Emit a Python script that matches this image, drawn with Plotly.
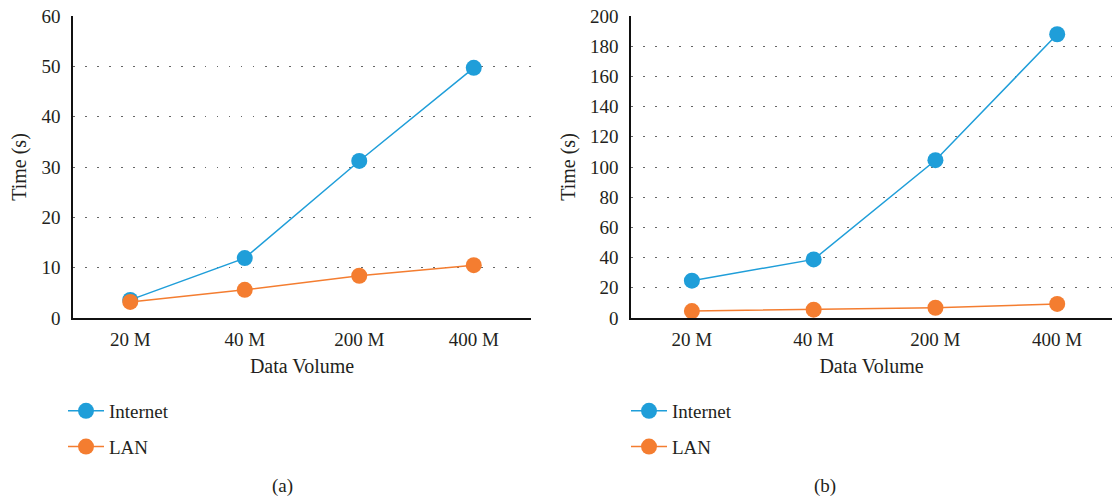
import plotly.graph_objects as go

# Data volumes on the x axis
volumes = ["20 M", "40 M", "200 M", "400 M"]

# Panel (a): transfer time in seconds
a_internet = [3.6, 11.9, 31.2, 49.7]
a_lan = [3.2, 5.6, 8.4, 10.5]

# Panel (b): transfer time in seconds
b_internet = [24.7, 38.8, 104.5, 187.9]
b_lan = [4.6, 5.5, 6.8, 9.3]

BLUE = "#1f9ed9"
ORANGE = "#f47d30"
FONT = "Liberation Serif"
TEXT_COLOR = "#231f20"
FS = 19

W, H = 1112, 498

fig = go.Figure()


def add_series(xaxis, yaxis, values, name, color, legend, group):
    fig.add_trace(go.Scatter(
        x=volumes, y=values, name=name, mode="lines+markers",
        line=dict(color=color, width=1.5),
        marker=dict(color=color, size=16),
        xaxis=xaxis, yaxis=yaxis, legend=legend, legendgroup=group,
    ))


add_series("x", "y", a_internet, "Internet", BLUE, "legend", "a1")
add_series("x", "y", a_lan, "LAN", ORANGE, "legend", "a2")
add_series("x2", "y2", b_internet, "Internet", BLUE, "legend2", "b1")
add_series("x2", "y2", b_lan, "LAN", ORANGE, "legend2", "b2")

tick_font = dict(family=FONT, size=FS, color=TEXT_COLOR)
title_font = dict(family=FONT, size=20, color=TEXT_COLOR)

common_x = dict(
    type="category", categoryorder="array", categoryarray=volumes,
    showline=True, linecolor="#111", linewidth=1.5, ticks="",
    showgrid=False, zeroline=False, tickfont=tick_font,
    title=dict(text="Data Volume", font=title_font, standoff=10),
    ticklabelstandoff=3,
)
common_y = dict(
    showline=True, linecolor="#111", linewidth=1.5, ticks="",
    showgrid=True, gridcolor="#666", gridwidth=1.3, griddash="1.5px,10.5px",
    zeroline=False, tickfont=tick_font,
    title=dict(text="Time (s)", font=title_font, standoff=9),
    ticklabelstandoff=7,
)

legend_common = dict(
    font=dict(family=FONT, size=FS, color=TEXT_COLOR),
    bgcolor="rgba(0,0,0,0)", tracegroupgap=8, itemwidth=36,
    xanchor="left", yanchor="top", orientation="v",
)

fig.update_layout(
    width=W, height=H,
    margin=dict(l=0, r=0, t=16, b=180),
    paper_bgcolor="white", plot_bgcolor="white",
    showlegend=True,
    xaxis=dict(common_x, domain=[73 / W, 531 / W], range=[-0.5, 3.5], anchor="y"),
    yaxis=dict(common_y, domain=[0, 1], range=[0, 60], dtick=10, anchor="x"),
    xaxis2=dict(common_x, domain=[631 / W, 1.0], range=[-0.5, 3.45], anchor="y2"),
    yaxis2=dict(common_y, domain=[0, 1], range=[0, 200], dtick=20, anchor="x2"),
    legend=dict(legend_common, x=63 / W, y=-0.245),
    legend2=dict(legend_common, x=626 / W, y=-0.245),
    annotations=[
        dict(text="(a)", x=270 / W, y=-0.60, xref="paper", yref="paper",
             showarrow=False, font=dict(family=FONT, size=FS, color=TEXT_COLOR)),
        dict(text="(b)", x=838 / W, y=-0.60, xref="paper", yref="paper",
             showarrow=False, font=dict(family=FONT, size=FS, color=TEXT_COLOR)),
    ],
)

fig.write_html("out.html")
